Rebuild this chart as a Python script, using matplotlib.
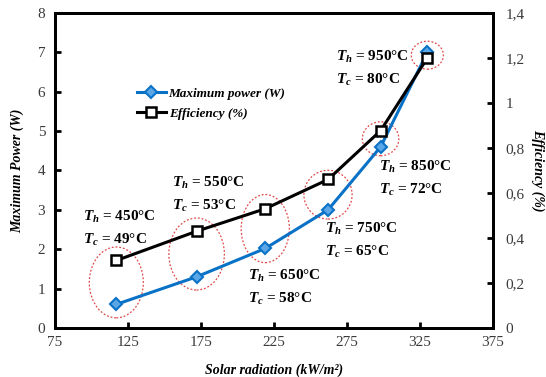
import matplotlib
matplotlib.use('Agg')
import matplotlib.pyplot as plt
from matplotlib.patches import Ellipse
from matplotlib.ticker import FuncFormatter
import numpy as np

# data
radiation = [117, 172, 219, 262, 298, 330]
max_power = [0.6, 1.3, 2.02, 3.0, 4.6, 7.0]
efficiency = [0.3, 0.43, 0.53, 0.66, 0.877, 1.2]
t_hot = [450, 550, 650, 750, 850, 950]
t_cold = [49, 53, 58, 65, 72, 80]

plt.rcParams['font.family'] = ['Liberation Serif', 'DejaVu Serif']
plt.rcParams['mathtext.fontset'] = 'custom'
plt.rcParams['mathtext.it'] = 'Liberation Serif:italic:bold'
plt.rcParams['mathtext.rm'] = 'Liberation Serif:bold'
plt.rcParams['mathtext.bf'] = 'Liberation Serif:bold'

blue = '#0A72C6'
red = '#E04848'
tickcol = '#3a3a3a'

fig = plt.figure(figsize=(5.46, 3.77), dpi=100)
ax = fig.add_axes([0.1007, 0.130, 0.8023, 0.8355])
ax2 = ax.twinx()

l1, = ax.plot(radiation, max_power, color=blue, lw=2.2, marker='D', ms=6,
              mfc='#5aa6e6', mec=blue, mew=1.5, label='Maximum power (W)')
l2, = ax2.plot(radiation, efficiency, color='black', lw=2.2, marker='s', ms=7.5,
               mfc='white', mec='black', mew=1.8, label='Efficiency (%)')

ax.set_xlim(75, 375)
ax.set_ylim(0, 8)
ax2.set_ylim(0, 1.4)
ax.set_xticks([75, 125, 175, 225, 275, 325, 375])
ax.set_yticks(range(0, 9))
ax2.set_yticks([0, 0.2, 0.4, 0.6, 0.8, 1.0, 1.2, 1.4])
ax2.yaxis.set_major_formatter(FuncFormatter(lambda v, p: '{:g}'.format(round(v, 1)).replace('.', ',')))

for a in (ax, ax2):
    for s in a.spines.values():
        s.set_linewidth(2)
ax.tick_params(axis='both', direction='in', length=4, width=2, labelsize=11,
               labelcolor=tickcol, pad=7)
ax.tick_params(axis='x', pad=6)
ax2.tick_params(axis='y', direction='in', length=4, width=2, labelsize=11,
                labelcolor=tickcol, pad=9)

lab = dict(fontsize=10, fontweight='bold', fontstyle='italic')
ax.set_xlabel('Solar radiation (kW/m²)', labelpad=10, **lab)
ax.set_ylabel('Maximum Power (W)', labelpad=10, **lab)
ax2.set_ylabel('Efficiency (%)', rotation=-90, labelpad=14, **lab)

# dotted rings around each operating point, centred between the two curves
scale = 8 / 1.4
ring_w = [37, 38, 33, 33, 25, 22]
ring_h = [1.8, 1.83, 1.73, 1.24, 0.86, 0.71]
for i, x in enumerate(radiation):
    yc = (max_power[i] + efficiency[i] * scale) / 2
    ax.add_patch(Ellipse((x, yc), ring_w[i], ring_h[i], fill=False,
                         ec=red, ls=(0, (1.5, 1.5)), lw=0.9, zorder=1))

# temperature labels (figure pixel positions of the text blocks)
label_xy = [(83, 217), (172, 183), (248, 276), (325, 229), (379, 167), (336, 57)]
for i, (px, py) in enumerate(label_xy):
    fig.text(px / 546, 1 - py / 377, r'$T_h$ = %d°C' % t_hot[i],
             fontsize=11, fontweight='bold', va='center', ha='left')
    fig.text(px / 546, 1 - (py + 23) / 377, r'$T_c$ = %d°C' % t_cold[i],
             fontsize=11, fontweight='bold', va='center', ha='left')

leg = ax2.legend([l1, l2], ['Maximum power (W)', 'Efficiency (%)'],
                 loc='upper left', bbox_to_anchor=(0.16, 0.80), frameon=False,
                 prop={'size': 9.5, 'weight': 'bold', 'style': 'italic'},
                 handlelength=2.2, handletextpad=0.2, labelspacing=0.55)

fig.savefig('out.png', dpi=100)
